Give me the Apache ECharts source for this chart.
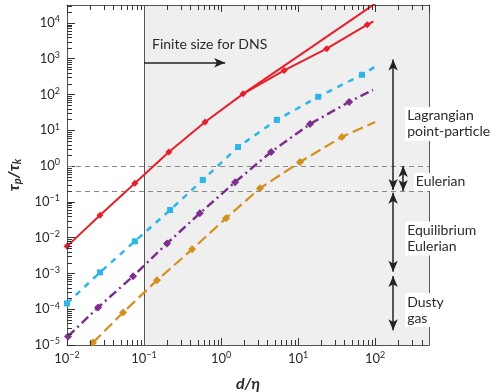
<!DOCTYPE html>
<html><head><meta charset="utf-8">
<script src="https://cdn.jsdelivr.net/npm/echarts@6/dist/echarts.min.js"></script>
<style>html,body{margin:0;padding:0;background:#fff}#c{width:496px;height:392px}</style>
</head><body><div id="c"></div>
<script>
// ---- data ----
const redX    = [0.01, 0.0268, 0.076, 0.21, 0.62, 1.93, 6.6, 23.5, 79, 95];
const redY    = [0.0057, 0.042, 0.33, 2.47, 17, 104, 470, 1900, 8900, 11000];
const redMarkN = 9;
const stokesX = [1.93, 100];
const stokesY = [104, 34600];
const cyanX   = [0.01, 0.0268, 0.076, 0.218, 0.58, 1.66, 5.3, 18.2, 67.5, 100];
const cyanY   = [0.000145, 0.00107, 0.0079, 0.059, 0.41, 3.4, 19.5, 86, 355, 600];
const cyanMarkN = 9;
const purpX   = [0.0103, 0.0253, 0.072, 0.199, 0.53, 1.52, 4.46, 14.3, 46, 94];
const purpY   = [0.0000174, 0.000112, 0.00083, 0.0069, 0.048, 0.355, 2.47, 15, 62, 134];
const purpMarkN = 9;
const orX     = [0.0218, 0.0534, 0.147, 0.42, 1.16, 3.2, 10.6, 37, 100];
const orY     = [0.0000117, 0.000081, 0.00064, 0.0047, 0.035, 0.24, 1.3, 6.5, 17];
const orMarkN = 8;
const xMin = 0.01, xMax = 500, yMin = 1e-5, yMax = 31623;
const hLines = [1, 0.2, 0.001];
const dnsLimit = 0.1;
const regimes = [
  {name: ['Lagrangian', 'point-particle'], x: 171, from: 950, to: 0.215, tx: 245, ty: 15},
  {name: ['Eulerian'], x: 231, from: 1, to: 0.2, tx: 318, ty: 0.36},
  {name: ['Equilibrium', 'Eulerian'], x: 171, from: 0.18, to: 0.00112, tx: 245, ty: 0.0095},
  {name: ['Dusty', 'gas'], x: 171, from: 0.00085, to: 0.000026, tx: 245, ty: 0.000095}
];
const dnsArrow = {from: 0.1, to: 1.13, y: 770, label: 'Finite size for DNS'};
const xMinorTicks = [];
for (let e = -2; e <= 2; e++) for (let m = 2; m <= 9; m++) { const v = m * Math.pow(10, e); if (v < xMax) xMinorTicks.push(v); }
const yMinorTicks = [];
for (let e = -5; e <= 4; e++) for (let m = 2; m <= 9; m++) { const v = m * Math.pow(10, e); if (v < yMax) yMinorTicks.push(v); }

const FONT = 'Lato';
const TXT = '#2a2a2a';
const TICK = '#333';
function zip(xs, ys) { return xs.map((x, i) => [x, ys[i]]); }
function marked(xs, ys, n) { return xs.map((x, i) => ({value: [x, ys[i]], symbolSize: i < n ? undefined : 0})); }
function expLabel(v) {
  const e = Math.round(Math.log10(v));
  if (Math.abs(Math.log10(v) - e) > 1e-6) return '';
  return '{b|10}{s|' + String(e).replace('-', '\u2212') + '}';
}
const richLab = {
  b: {fontFamily: FONT, fontSize: 13, color: TXT, lineHeight: 16},
  s: {fontFamily: FONT, fontSize: 9, color: TXT, verticalAlign: 'top', lineHeight: 16}
};

const chart = echarts.init(document.getElementById('c'), null, {renderer: 'canvas'});
const axisLine = {show: true, lineStyle: {color: '#555', width: 1}};
const option = {
  animation: false,
  grid: {left: 67, right: 67, top: 5, bottom: 47, show: false, containLabel: false, outerBoundsMode: 'none'},
  xAxis: [{
    type: 'log', min: xMin, max: xMax, logBase: 10,
    axisLine: axisLine, axisTick: {show: true, inside: true, length: 7, lineStyle: {color: TICK}},
    splitLine: {show: false},
    axisLabel: {formatter: expLabel, margin: 6, rich: richLab, showMinLabel: true, showMaxLabel: false},
    name: '{i|d}{i|/η}', nameLocation: 'middle', nameGap: 31,
    nameTextStyle: {rich: {i: {fontFamily: FONT, fontSize: 16, fontWeight: 'bold', fontStyle: 'italic', color: TXT}}}
  }, {
    type: 'log', min: xMin, max: xMax, position: 'top',
    axisLine: axisLine, axisTick: {show: true, inside: true, length: 7, lineStyle: {color: TICK}},
    axisLabel: {show: false}, splitLine: {show: false}
  }],
  yAxis: [{
    type: 'log', min: yMin, max: yMax,
    axisLine: axisLine, axisTick: {show: true, inside: true, length: 8, lineStyle: {color: TICK}},
    splitLine: {show: false},
    axisLabel: {formatter: expLabel, margin: 7, rich: richLab, showMaxLabel: false},
    name: '{t|τ}{sub|p}{t|/τ}{sub|k}', nameLocation: 'middle', nameGap: 44, nameRotate: 90,
    nameTextStyle: {rich: {
      t: {fontFamily: FONT, fontSize: 16, fontWeight: 'bold', fontStyle: 'italic', color: TXT, lineHeight: 18},
      sub: {fontFamily: FONT, fontSize: 11, fontWeight: 'bold', fontStyle: 'italic', color: TXT, verticalAlign: 'bottom', lineHeight: 18}
    }}
  }, {
    type: 'log', min: yMin, max: yMax, position: 'right',
    axisLine: axisLine, axisTick: {show: false}, axisLabel: {show: false}, splitLine: {show: false}
  }],
  series: [
    {
      type: 'line', name: 'bg', data: [], z: 0,
      markArea: {silent: true, z: 0, itemStyle: {color: '#efefef'}, data: [[{coord: [dnsLimit, yMin]}, {coord: [xMax, yMax]}]]},
      markLine: {silent: true, symbol: ['none', 'none'], label: {show: false},
        data: hLines.map(v => ({yAxis: v, lineStyle: {type: [5, 4], color: '#888', width: 1}}))
          .concat([{xAxis: dnsLimit, lineStyle: {type: 'solid', color: '#555', width: 1}}])}
    },
    {
      type: 'line', name: 'arrows', data: [], z: 6,
      markLine: {silent: true, symbol: ['arrow', 'arrow'], symbolSize: [7, 11], label: {show: false},
        lineStyle: {color: '#222', width: 1.5, type: 'solid'},
        data: regimes.map(r => [{coord: [r.x, r.from]}, {coord: [r.x, r.to]}])
          .concat([[{coord: [dnsArrow.from, dnsArrow.y], symbol: 'none'}, {coord: [dnsArrow.to, dnsArrow.y], symbol: 'arrow'}]])}
    },
    {type: 'line', data: zip(stokesX, stokesY), symbol: 'none', lineStyle: {color: '#e5202b', width: 2}, z: 5},
    {type: 'line', data: marked(redX, redY, redMarkN), symbol: 'diamond', symbolSize: 7, showAllSymbol: true,
      itemStyle: {color: '#e5202b'}, lineStyle: {color: '#e5202b', width: 2}, z: 5},
    {type: 'line', data: marked(cyanX, cyanY, cyanMarkN), symbol: 'rect', symbolSize: 6, showAllSymbol: true,
      itemStyle: {color: '#2eb5e8'}, lineStyle: {color: '#2eb5e8', width: 2.5, type: [6, 6]}, z: 5},
    {type: 'line', data: marked(purpX, purpY, purpMarkN), symbol: 'diamond', symbolSize: 8, showAllSymbol: true,
      itemStyle: {color: '#7e2f8e'}, lineStyle: {color: '#7e2f8e', width: 2.5, type: [9, 4, 2, 4]}, z: 5},
    {type: 'line', data: marked(orX, orY, orMarkN), symbol: 'diamond', symbolSize: 8, showAllSymbol: true,
      itemStyle: {color: '#d4901e'}, lineStyle: {color: '#d4901e', width: 2.2, type: [11, 5]}, z: 5}
  ]
};
chart.setOption(option);

// minor ticks and text annotations, positioned with the chart's own coordinate conversion
function px(x, y) { return chart.convertToPixel({gridIndex: 0}, [x, y]); }
const graphics = [];
function addTick(x1, y1, x2, y2) {
  graphics.push({type: 'line', z: 120,
    shape: {x1: x1, y1: y1, x2: x2, y2: y2}, style: {stroke: TICK, lineWidth: 1}});
}
xMinorTicks.forEach(v => {
  const b = px(v, yMin), t = px(v, yMax);
  const xx = Math.round(b[0]) + 0.5;
  addTick(xx, b[1], xx, b[1] - 5);
  addTick(xx, t[1], xx, t[1] + 5);
});
yMinorTicks.forEach(v => {
  const l = px(xMin, v);
  const yy = Math.round(l[1]) + 0.5;
  addTick(l[0], yy, l[0] + 5, yy);
});
const dnsP = px(dnsArrow.from, dnsArrow.y);
graphics.push({type: 'text', z: 100, x: dnsP[0] + 8, y: dnsP[1] - 25,
  style: {text: dnsArrow.label, font: '14px ' + FONT, fill: TXT}});
regimes.forEach(r => {
  const p = px(r.tx, r.ty);
  graphics.push({type: 'text', z: 100, x: p[0], y: p[1],
    style: {text: r.name.join('\n'), font: '14px ' + FONT, fill: TXT, lineHeight: 16, verticalAlign: 'middle',
      backgroundColor: '#fff', padding: [1, 2, 1, 2]}});
});
chart.setOption({graphic: {elements: graphics}});
</script></body></html>
